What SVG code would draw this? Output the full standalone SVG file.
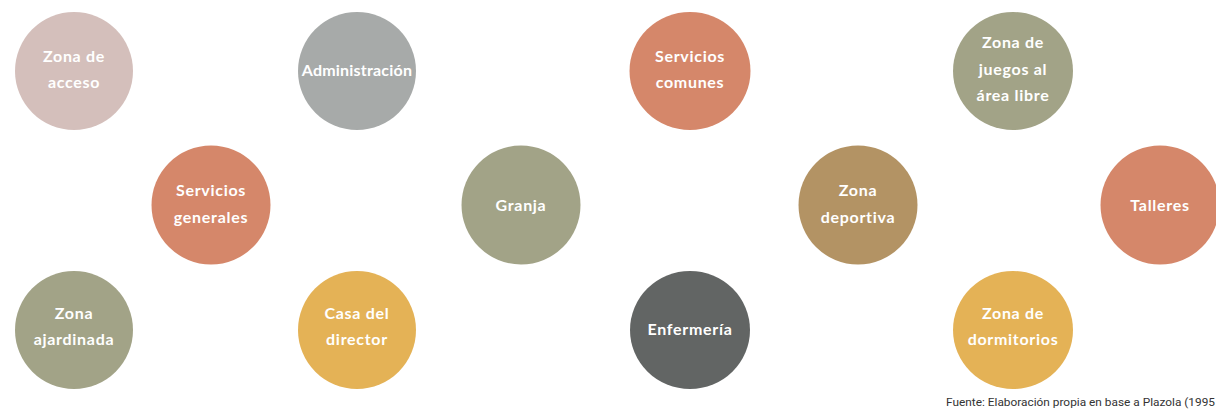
<svg xmlns="http://www.w3.org/2000/svg" width="1216" height="412" viewBox="0 0 1216 412">
<style>
.lbl{font-family:Lato,"Open Sans","DejaVu Sans",sans-serif;font-weight:700;font-size:16px;fill:#ffffff;text-anchor:middle;letter-spacing:0.7px}
.rose{fill:#d4bfbb}.grey{fill:#a7aaa9}.terra{fill:#d5876a}.olive{fill:#a2a387}.ochre{fill:#b39364}.gold{fill:#e4b256}.dark{fill:#626564}
.src{font-family:Roboto,"Liberation Sans",sans-serif;font-size:11px;fill:#333333}
</style>
<rect width="1216" height="412" fill="#ffffff"/>
<g id="connectors"></g>
<g id="zona-acceso"><circle class="rose" cx="74" cy="71" r="59"/><text class="lbl" x="74" y="62">Zona de</text><text class="lbl" x="74" y="88">acceso</text></g>
<g id="administracion"><circle class="grey" cx="357" cy="71" r="59"/><text class="lbl" x="357" y="76" style="letter-spacing:0.2px">Administración</text></g>
<g id="servicios-comunes"><ellipse class="terra" cx="690" cy="71" rx="60.5" ry="59"/><text class="lbl" x="690" y="62">Servicios</text><text class="lbl" x="690" y="88">comunes</text></g>
<g id="zona-juegos"><ellipse class="olive" cx="1013" cy="71" rx="60" ry="59"/><text class="lbl" x="1013" y="48">Zona de</text><text class="lbl" x="1013" y="75">juegos al</text><text class="lbl" x="1013" y="101">área libre</text></g>
<g id="servicios-generales"><circle class="terra" cx="211" cy="205" r="59.5"/><text class="lbl" x="211" y="196">Servicios</text><text class="lbl" x="211" y="223">generales</text></g>
<g id="granja"><circle class="olive" cx="521" cy="205" r="59.5"/><text class="lbl" x="521" y="211">Granja</text></g>
<g id="zona-deportiva"><circle class="ochre" cx="858" cy="205" r="59.5"/><text class="lbl" x="858" y="196">Zona</text><text class="lbl" x="858" y="223">deportiva</text></g>
<g id="talleres"><circle class="terra" cx="1160" cy="205" r="59.5"/><text class="lbl" x="1160" y="211">Talleres</text></g>
<g id="zona-ajardinada"><circle class="olive" cx="74" cy="330" r="59"/><text class="lbl" x="74" y="319">Zona</text><text class="lbl" x="74" y="345">ajardinada</text></g>
<g id="casa-director"><circle class="gold" cx="357" cy="330" r="59"/><text class="lbl" x="357" y="319">Casa del</text><text class="lbl" x="357" y="345">director</text></g>
<g id="enfermeria"><ellipse class="dark" cx="690" cy="330" rx="60" ry="59"/><text class="lbl" x="690" y="335">Enfermería</text></g>
<g id="zona-dormitorios"><ellipse class="gold" cx="1013" cy="330" rx="60" ry="59"/><text class="lbl" x="1013" y="319">Zona de</text><text class="lbl" x="1013" y="345">dormitorios</text></g>
<text class="src" x="946" y="406" textLength="269" lengthAdjust="spacingAndGlyphs">Fuente: Elaboración propia en base a Plazola (1995</text>
</svg>
